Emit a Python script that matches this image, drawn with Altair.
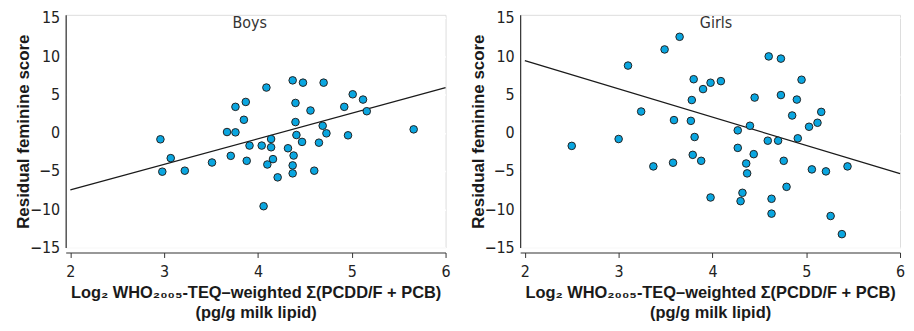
import altair as alt
import pandas as pd

# ---- data ----
boys_x = [2.96, 4.09, 4.37, 4.48, 4.70, 5.01, 5.12, 4.92, 5.16, 3.76, 3.87, 4.40, 4.56,
          3.85, 4.40, 4.69, 3.67, 3.76, 5.66, 4.41, 4.73, 4.96, 4.14, 4.47, 4.65, 3.91,
          4.04, 4.14, 4.32, 3.07, 3.71, 4.38, 3.51, 3.88, 4.16, 4.10, 4.37, 2.98, 3.22,
          4.37, 4.60, 4.21, 4.06]
boys_y = [-0.86, 5.9, 6.84, 6.54, 6.54, 5.02, 4.33, 3.38, 2.81, 3.38, 4.02, 3.89, 2.9,
          1.69, 1.39, 0.91, 0.09, 0.05, 0.44, -0.3, -0.08, -0.34, -0.82, -1.2, -1.3, -1.68,
          -1.68, -1.9, -2.03, -3.32, -3.02, -2.98, -3.89, -3.67, -3.45, -4.15, -4.27, -5.09,
          -4.96, -5.31, -4.96, -5.83, -9.6]

girls_x = [2.50, 3.00, 3.10, 3.24, 3.49, 3.65, 3.59, 3.77, 3.78, 3.80, 3.90, 3.98, 4.09,
           3.81, 4.27, 4.40, 4.45, 4.60, 4.73, 4.73, 4.90, 4.95, 4.85, 5.03, 5.12, 5.16,
           4.59, 4.70, 4.91, 4.27, 3.79, 3.88, 4.44, 4.36, 4.76, 3.37, 3.58, 4.37, 5.06,
           5.21, 5.44, 4.79, 4.32, 4.30, 3.98, 4.63, 4.63, 5.26, 5.38]
girls_y = [-1.72, -0.82, 8.77, 2.77, 10.88, 12.53, 1.65, 1.55, 4.27, 6.99, 5.7, 6.53, 6.74,
           -0.56, 0.31, 0.91, 4.59, 9.97, 9.68, 4.92, 4.33, 6.92, 2.25, 0.78, 1.3, 2.72,
           -1.04, -1.04, -0.73, -1.98, -2.89, -3.67, -2.8, -4.02, -3.67, -4.4, -3.92, -5.31,
           -4.79, -5.05, -4.4, -7.07, -7.85, -8.94, -8.46, -8.63, -10.57, -10.88, -13.25]

line_x = [2, 6]
boys_line_y = [-7.46, 5.88]
girls_line_y = [9.42, -5.35]

x_ticks = [2, 3, 4, 5, 6]
y_ticks = [-15, -10, -5, 0, 5, 10, 15]
panel_titles = ["Boys", "Girls"]
y_title = "Residual feminine score"
x_title = ["Log\u2082 WHO\u2082\u2080\u2080\u2085-TEQ\u2013weighted \u03a3(PCDD/F + PCB)",
           "(pg/g milk lipid)"]

NARROW = "Liberation Sans Narrow, DejaVu Sans Condensed, Arial Narrow, sans-serif"
BOLD = "Liberation Sans, Arial, sans-serif"

common_axis = dict(
    labelFont=NARROW, labelFontSize=16, labelColor="#222222",
    titleFont=BOLD, titleFontWeight="bold", titleColor="#1a1a1a",
    domainColor="#333333", domainWidth=1.2, tickColor="#333333",
    gridColor="#ffffff", gridWidth=1.5, labelOverlap=False, labelFlush=False,
    format="d",
)


def panel(xs, ys, ly, title, title_dx):
    pts = pd.DataFrame({"x": xs, "y": ys})
    ln = pd.DataFrame({"x": line_x, "y": ly})
    xscale = alt.Scale(domain=[1.95, 6.0], nice=False, zero=False)
    yscale = alt.Scale(domain=[-15, 15.4], nice=False, zero=False)
    xaxis = alt.Axis(values=x_ticks, title=x_title, grid=False, offset=5,
                     tickSize=5, labelPadding=6, titlePadding=5, titleFontSize=16.5,
                     titleLineHeight=20, **common_axis)
    yaxis = alt.Axis(values=y_ticks, title=y_title, grid=True, ticks=False,
                     labelPadding=6, titleX=-42, titleBaseline="middle",
                     titleAlign="center", titleFontSize=17, **common_axis)
    line = alt.Chart(ln).mark_line(color="#1a1a1a", strokeWidth=1.3).encode(
        x=alt.X("x:Q", scale=xscale, axis=xaxis),
        y=alt.Y("y:Q", scale=yscale, axis=yaxis),
    )
    points = alt.Chart(pts).mark_circle(
        fill="#0aa6e0", stroke="#222222", strokeWidth=1, size=58, opacity=1
    ).encode(
        x=alt.X("x:Q", scale=xscale, axis=xaxis),
        y=alt.Y("y:Q", scale=yscale, axis=yaxis),
    )
    return alt.layer(line, points).properties(
        width=382, height=234,
        title=alt.TitleParams(text=title, offset=-21, dx=title_dx, font=NARROW,
                              fontSize=16, fontWeight="normal", color="#333333",
                              anchor="middle"),
    )


chart = alt.hconcat(
    panel(boys_x, boys_y, boys_line_y, panel_titles[0], -6),
    panel(girls_x, girls_y, girls_line_y, panel_titles[1], 6),
    spacing=17,
).properties(
    padding={"left": 6, "top": 0, "right": 0, "bottom": 0}
).configure_view(
    fill="#e6e7e9", stroke="transparent"
).configure(background="white")

chart.save("out.html", embed_options={"renderer": "svg", "actions": False})
